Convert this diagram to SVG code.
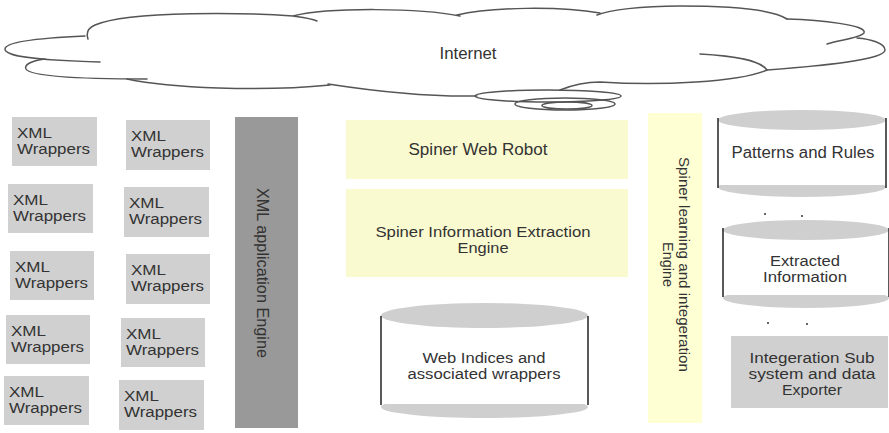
<svg xmlns="http://www.w3.org/2000/svg" width="889" height="433" viewBox="0 0 889 433">
  <style>
    text { font-family: "Liberation Sans", Arial, sans-serif; font-size: 14px; fill: #333; }
    .c { text-anchor: middle; }
    .big { font-size: 16px; }
    .cloud { fill: none; stroke: #555; stroke-width: 1.5; stroke-linecap: round; }
    .wrap { fill: #d0d0d0; }
    .dark { fill: #999; }
    .pale { fill: #fafad0; }
    .paler { fill: #ffffd4; }
    .cap { fill: #cfcfcf; }
    .body { fill: #fff; }
    .side { stroke: #222; stroke-width: 1.5; }
    .dot { fill: #333; }
  </style>

  <rect width="889" height="433" fill="#fff"/>

  <!-- Internet cloud -->
  <g id="internet">
    <path class="cloud" d="M85,36 C40,38 5,42 5,49 C5,56 30,60 100,62"/>
    <path class="cloud" d="M45,59 C30,61 24,65 26,69 C30,76 80,79 147,79"/>
    <path class="cloud" d="M127,79 C170,88 260,92 330,85"/>
    <path class="cloud" d="M328,84 C380,92 430,97 477,96"/>
    <path class="cloud" d="M560,90 C575,84 585,82 600,82 C660,86 740,82 767,70"/>
    <path class="cloud" d="M767,70 C760,60 735,56 700,54"/>
    <path class="cloud" d="M767,70 C820,66 885,60 885,50 C885,43 870,39 857,38"/>
    <path class="cloud" d="M827,44 C840,40 860,38 864,33 C868,25 820,20 787,19"/>
    <path class="cloud" d="M787,19 C770,8 720,6 680,6 C640,6 610,10 597,15"/>
    <path class="cloud" d="M600,13 C560,6 490,7 457,15"/>
    <path class="cloud" d="M460,16 C420,8 330,7 293,16 C300,17 310,18 317,21"/>
    <path class="cloud" d="M293,16 C250,13 130,10 95,25 C88,28 86,33 88,39"/>
    <ellipse class="cloud" cx="548" cy="96" rx="73" ry="6"/>
    <ellipse class="cloud" cx="565" cy="104" rx="50" ry="6"/>
    <ellipse class="cloud" cx="567" cy="105.5" rx="25" ry="3.5" stroke-width="2"/>
    <text class="c big" x="468" y="59" textLength="57" lengthAdjust="spacingAndGlyphs">Internet</text>
  </g>

  <!-- XML wrapper boxes, first column -->
  <g id="wrapper-1-1"><rect class="wrap" x="12" y="117" width="85" height="49"/><text x="17" y="137.5" textLength="35" lengthAdjust="spacingAndGlyphs">XML</text><text x="17" y="153.5" textLength="73" lengthAdjust="spacingAndGlyphs">Wrappers</text></g>
  <g id="wrapper-1-2"><rect class="wrap" x="8" y="184" width="85" height="49"/><text x="13" y="204.5" textLength="35" lengthAdjust="spacingAndGlyphs">XML</text><text x="13" y="220.5" textLength="73" lengthAdjust="spacingAndGlyphs">Wrappers</text></g>
  <g id="wrapper-1-3"><rect class="wrap" x="10" y="251" width="84" height="49"/><text x="15" y="271.5" textLength="35" lengthAdjust="spacingAndGlyphs">XML</text><text x="15" y="287.5" textLength="73" lengthAdjust="spacingAndGlyphs">Wrappers</text></g>
  <g id="wrapper-1-4"><rect class="wrap" x="6" y="315" width="84" height="49"/><text x="11" y="335.5" textLength="35" lengthAdjust="spacingAndGlyphs">XML</text><text x="11" y="351.5" textLength="73" lengthAdjust="spacingAndGlyphs">Wrappers</text></g>
  <g id="wrapper-1-5"><rect class="wrap" x="4" y="376" width="85" height="49"/><text x="9" y="396.5" textLength="35" lengthAdjust="spacingAndGlyphs">XML</text><text x="9" y="412.5" textLength="73" lengthAdjust="spacingAndGlyphs">Wrappers</text></g>

  <!-- XML wrapper boxes, second column -->
  <g id="wrapper-2-1"><rect class="wrap" x="126" y="120" width="84" height="50"/><text x="131" y="140.5" textLength="35" lengthAdjust="spacingAndGlyphs">XML</text><text x="131" y="156.5" textLength="73" lengthAdjust="spacingAndGlyphs">Wrappers</text></g>
  <g id="wrapper-2-2"><rect class="wrap" x="124" y="187" width="85" height="50"/><text x="129" y="207.5" textLength="35" lengthAdjust="spacingAndGlyphs">XML</text><text x="129" y="223.5" textLength="73" lengthAdjust="spacingAndGlyphs">Wrappers</text></g>
  <g id="wrapper-2-3"><rect class="wrap" x="126" y="254" width="84" height="50"/><text x="131" y="274.5" textLength="35" lengthAdjust="spacingAndGlyphs">XML</text><text x="131" y="290.5" textLength="73" lengthAdjust="spacingAndGlyphs">Wrappers</text></g>
  <g id="wrapper-2-4"><rect class="wrap" x="121" y="318" width="84" height="49"/><text x="126" y="338.5" textLength="35" lengthAdjust="spacingAndGlyphs">XML</text><text x="126" y="354.5" textLength="73" lengthAdjust="spacingAndGlyphs">Wrappers</text></g>
  <g id="wrapper-2-5"><rect class="wrap" x="119" y="380" width="85" height="50"/><text x="124" y="400.5" textLength="35" lengthAdjust="spacingAndGlyphs">XML</text><text x="124" y="416.5" textLength="73" lengthAdjust="spacingAndGlyphs">Wrappers</text></g>

  <!-- XML application engine bar -->
  <g id="xml-engine">
    <rect class="dark" x="235" y="117" width="63" height="311"/>
    <text class="c big" transform="translate(263,273) rotate(90)" dy="0.35em" textLength="170" lengthAdjust="spacingAndGlyphs">XML application Engine</text>
  </g>

  <!-- Spiner components -->
  <g id="web-robot">
    <rect class="pale" x="346" y="120" width="282" height="59"/>
    <text class="c big" x="478" y="155" textLength="139" lengthAdjust="spacingAndGlyphs">Spiner Web Robot</text>
  </g>
  <g id="extraction-engine">
    <rect class="pale" x="346" y="189" width="282" height="88"/>
    <text class="c" x="483" y="236.5" textLength="215" lengthAdjust="spacingAndGlyphs">Spiner Information Extraction</text>
    <text class="c" x="483" y="252.5" textLength="51" lengthAdjust="spacingAndGlyphs">Engine</text>
  </g>

  <g id="web-indices">
    <ellipse class="cap" cx="484.5" cy="407" rx="103.5" ry="11"/>
    <rect class="body" x="381" y="316" width="207" height="88"/>
    <ellipse class="cap" cx="484.5" cy="315.5" rx="103.5" ry="12.5"/>
    <line class="side" x1="381" y1="316" x2="381" y2="405"/>
    <line class="side" x1="588" y1="316" x2="588" y2="405"/>
    <text class="c" x="484" y="363" textLength="123" lengthAdjust="spacingAndGlyphs">Web Indices and</text>
    <text class="c" x="484" y="379" textLength="153" lengthAdjust="spacingAndGlyphs">associated wrappers</text>
  </g>

  <g id="learning-engine">
    <rect class="paler" x="648" y="113" width="54" height="310"/>
    <text class="c" transform="translate(679,264.5) rotate(90)" textLength="215" lengthAdjust="spacingAndGlyphs">Spiner learning and integeration</text>
    <text class="c" transform="translate(663,264.5) rotate(90)" textLength="45" lengthAdjust="spacingAndGlyphs">Engine</text>
  </g>

  <!-- Data stores on the right -->
  <g id="patterns-rules">
    <ellipse class="cap" cx="802" cy="187" rx="84" ry="10"/>
    <rect class="body" x="718" y="120" width="168" height="65"/>
    <ellipse class="cap" cx="802" cy="120" rx="84" ry="10"/>
    <line class="side" x1="718" y1="118" x2="718" y2="188"/>
    <line class="side" x1="886" y1="118" x2="886" y2="188"/>
    <text class="c big" x="803" y="158" textLength="143" lengthAdjust="spacingAndGlyphs">Patterns and Rules</text>
  </g>

  <g id="extracted-info">
    <ellipse class="cap" cx="806" cy="298" rx="83" ry="10"/>
    <rect class="body" x="723" y="230" width="166" height="65"/>
    <ellipse class="cap" cx="806" cy="230" rx="83" ry="10"/>
    <line class="side" x1="723" y1="228" x2="723" y2="297"/>
    <line class="side" x1="889" y1="228" x2="889" y2="297"/>
    <text class="c" x="805" y="266" textLength="70" lengthAdjust="spacingAndGlyphs">Extracted</text>
    <text class="c" x="805" y="282" textLength="84" lengthAdjust="spacingAndGlyphs">Information</text>
  </g>

  <g id="integration-exporter">
    <rect class="wrap" x="731" y="336" width="157" height="72"/>
    <text class="c" x="812" y="363" textLength="125" lengthAdjust="spacingAndGlyphs">Integeration Sub</text>
    <text class="c" x="812" y="379" textLength="127" lengthAdjust="spacingAndGlyphs">system and data</text>
    <text class="c" x="812" y="395" textLength="60" lengthAdjust="spacingAndGlyphs">Exporter</text>
  </g>

  <!-- connector marks between the stores -->
  <g id="connectors">
    <circle class="dot" cx="765" cy="214" r="1"/>
    <circle class="dot" cx="802" cy="216" r="1"/>
    <circle class="dot" cx="768" cy="323" r="1"/>
    <circle class="dot" cx="807" cy="324" r="1"/>
  </g>
</svg>
